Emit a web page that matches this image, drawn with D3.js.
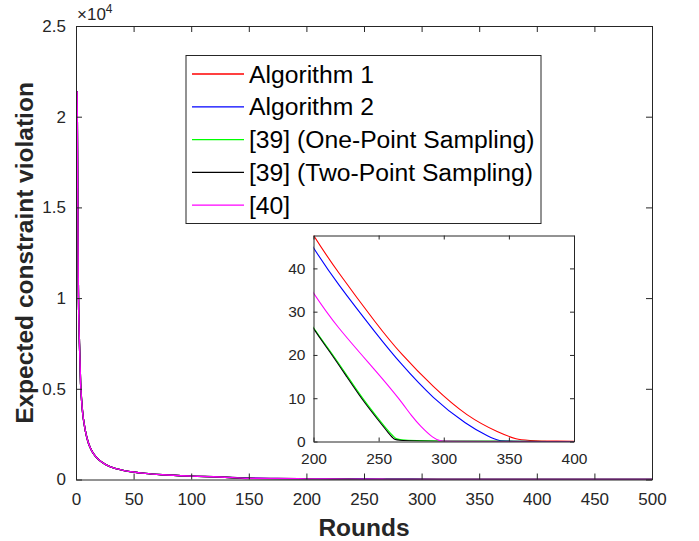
<!DOCTYPE html>
<html>
<head>
<meta charset="utf-8">
<script src="https://cdnjs.cloudflare.com/ajax/libs/d3/7.8.5/d3.min.js"></script>
<style>
  body { margin: 0; background: #fff; }
  svg { font-family: "Liberation Sans", Arial, sans-serif; }
  .axis text { fill: #262626; }
  .axis path, .axis line { stroke: #262626; }
</style>
</head>
<body>
<div id="svg"></div>
<script>
// Data
var seriesNames = ['Algorithm 1', 'Algorithm 2', '[39] (One-Point Sampling)', '[39] (Two-Point Sampling)', '[40]'];
var seriesColors = ['#ff0000', '#0000ff', '#00ff00', '#000000', '#ff00ff'];

// early rounds, all five curves sit on top of each other
var headRounds = [1, 2, 3, 4, 5, 6, 7, 8, 10, 12, 15, 20, 25, 30, 40, 50, 60, 75, 100, 125];
var headValues = [21400, 10900, 7500, 5300, 4250, 3550, 3100, 2720, 2180, 1800, 1440, 1070, 850, 700, 520, 410, 335, 260, 185, 138];

// tails (what the inset shows)
var alg1Rounds = [150, 175, 200, 217, 250, 266, 292, 318, 343, 356, 366, 500];
var alg1Values = [80, 60, 47.5, 39.8, 26.5, 20.6, 12.5, 5.7, 1.9, 0.5, 0, 0];
var alg2Rounds = [150, 175, 200, 217, 250, 266, 292, 318, 335, 343, 350, 500];
var alg2Values = [76, 57, 44.6, 37, 24.2, 18.3, 9.8, 3.8, 1.0, 0.1, 0, 0];
var onePtRounds = [150, 175, 200, 212, 225, 237, 250, 258, 263, 268, 500];
var onePtValues = [54, 38, 26.1, 21.3, 15.6, 10.2, 5.2, 2.2, 0.6, 0, 0];
var twoPtRounds = [150, 175, 200, 212, 225, 237, 250, 258, 262, 266, 500];
var twoPtValues = [53, 38, 25.9, 21, 15.2, 9.8, 4.8, 1.8, 0.4, 0, 0];
var ref40Rounds = [150, 175, 200, 217, 250, 266, 276, 282, 292, 298, 302, 500];
var ref40Values = [64, 46, 34.2, 26.8, 15.6, 9.8, 5.6, 3.6, 0.7, 0.05, 0, 0];

var xTicks = [0, 50, 100, 150, 200, 250, 300, 350, 400, 450, 500];
var yTicks = [0, 5000, 10000, 15000, 20000, 25000];
var yTickLabels = ['0', '0.5', '1', '1.5', '2', '2.5'];
var insetXTicks = [200, 250, 300, 350, 400];
var insetYTicks = [0, 10, 20, 30, 40];

var tails = [[alg1Rounds, alg1Values], [alg2Rounds, alg2Values], [onePtRounds, onePtValues],
             [twoPtRounds, twoPtValues], [ref40Rounds, ref40Values]];

var series = seriesNames.map(function(name, i) {
	var pts = headRounds.map(function(r, j) { return {x: r, y: headValues[j]}; });
	tails[i][0].forEach(function(r, j) { pts.push({x: r, y: tails[i][1][j]}); });
	return {name: name, color: seriesColors[i], points: pts};
});

var W = 699, H = 541;
var svg = d3.select("#svg").append("svg")
	.attr("width", W).attr("height", H);

// main axes
var x = d3.scaleLinear().domain([0, 500]).range([76, 652]);
var y = d3.scaleLinear().domain([0, 25000]).range([479.5, 26]);

svg.append("clipPath").attr("id", "mainClip")
	.append("rect").attr("x", 76).attr("y", 26).attr("width", 576).attr("height", 453.5);

var line = d3.line()
	.x(function(d) { return x(d.x); })
	.y(function(d) { return y(d.y); })
	.curve(d3.curveMonotoneX);

svg.append("g").attr("clip-path", "url(#mainClip)")
	.selectAll("path").data(series).enter().append("path")
	.attr("d", function(d) { return line(d.points); })
	.attr("fill", "none")
	.attr("stroke", function(d) { return d.color; })
	.attr("stroke-width", 1.4);

function boxAxes(g, xs, ys, xt, yt, ytl, fs, tl) {
	g.append("g").attr("class", "axis")
		.attr("transform", "translate(0," + ys.range()[0] + ")")
		.call(d3.axisBottom(xs).tickValues(xt).tickSize(-tl).tickSizeOuter(0).tickPadding(tl + 7))
		.selectAll("text").style("font-size", fs + "px");
	g.append("g").attr("class", "axis")
		.attr("transform", "translate(0," + ys.range()[1] + ")")
		.call(d3.axisTop(xs).tickValues(xt).tickSize(-tl).tickSizeOuter(0).tickFormat(''));
	g.append("g").attr("class", "axis")
		.attr("transform", "translate(" + xs.range()[0] + ",0)")
		.call(d3.axisLeft(ys).tickValues(yt).tickSize(-tl).tickSizeOuter(0).tickPadding(tl + 4)
			.tickFormat(function(d, i) { return ytl ? ytl[i] : d; }))
		.selectAll("text").style("font-size", fs + "px");
	g.append("g").attr("class", "axis")
		.attr("transform", "translate(" + xs.range()[1] + ",0)")
		.call(d3.axisRight(ys).tickValues(yt).tickSize(-tl).tickSizeOuter(0).tickFormat(''));
	g.selectAll(".axis .domain").attr("stroke-width", 1);
}

boxAxes(svg, x, y, xTicks, yTicks, yTickLabels, 17, 6);

// x10^4 exponent
var ex = svg.append("text").attr("x", 77).attr("y", 20)
	.attr("fill", "#262626").style("font-size", "17px");
ex.append("tspan").text("\u00d710");
ex.append("tspan").attr("dy", -7).style("font-size", "12px").text("4");

svg.append("text")
	.attr("x", 364).attr("y", 536)
	.attr("text-anchor", "middle")
	.attr("fill", "#262626")
	.style("font-size", "24.5px").style("font-weight", "bold")
	.text("Rounds");

svg.append("text")
	.attr("transform", "translate(33,253) rotate(-90)")
	.attr("text-anchor", "middle")
	.attr("fill", "#262626")
	.style("font-size", "24.5px").style("font-weight", "bold")
	.text("Expected constraint violation");

// legend
var legend = svg.append("g");
legend.append("rect")
	.attr("x", 186).attr("y", 55.5).attr("width", 355).attr("height", 168)
	.attr("fill", "#fff").attr("stroke", "#262626").attr("stroke-width", 1);
var items = legend.selectAll("g.item").data(series).enter().append("g")
	.attr("class", "item")
	.attr("transform", function(d, i) { return "translate(0," + (74 + i * 32.8) + ")"; });
items.append("line")
	.attr("x1", 192).attr("x2", 244)
	.attr("stroke", function(d) { return d.color; })
	.attr("stroke-width", 1.3);
items.append("text")
	.attr("x", 249).attr("dy", "0.35em")
	.attr("fill", "#000")
	.style("font-size", "24.7px")
	.text(function(d) { return d.name; });

// inset zoom 200..400
var ix = d3.scaleLinear().domain([200, 400]).range([313.5, 574]);
var iy = d3.scaleLinear().domain([0, 47.6]).range([441.5, 235.5]);
var inset = svg.append("g");
inset.append("rect")
	.attr("x", 313.5).attr("y", 235.5).attr("width", 260.5).attr("height", 206)
	.attr("fill", "#fff");
inset.append("clipPath").attr("id", "insetClip")
	.append("rect").attr("x", 313.5).attr("y", 235.5).attr("width", 260.5).attr("height", 206);

var iline = d3.line()
	.x(function(d) { return ix(d.x); })
	.y(function(d) { return iy(d.y); })
	.curve(d3.curveBasis);

inset.append("g").attr("clip-path", "url(#insetClip)")
	.selectAll("path").data(series).enter().append("path")
	.attr("d", function(d) { return iline(d.points.filter(function(p) { return p.x >= 175; })); })
	.attr("fill", "none")
	.attr("stroke", function(d) { return d.color; })
	.attr("stroke-width", 1.1);

boxAxes(inset, ix, iy, insetXTicks, insetYTicks, null, 15.5, 4);
</script>
</body>
</html>
